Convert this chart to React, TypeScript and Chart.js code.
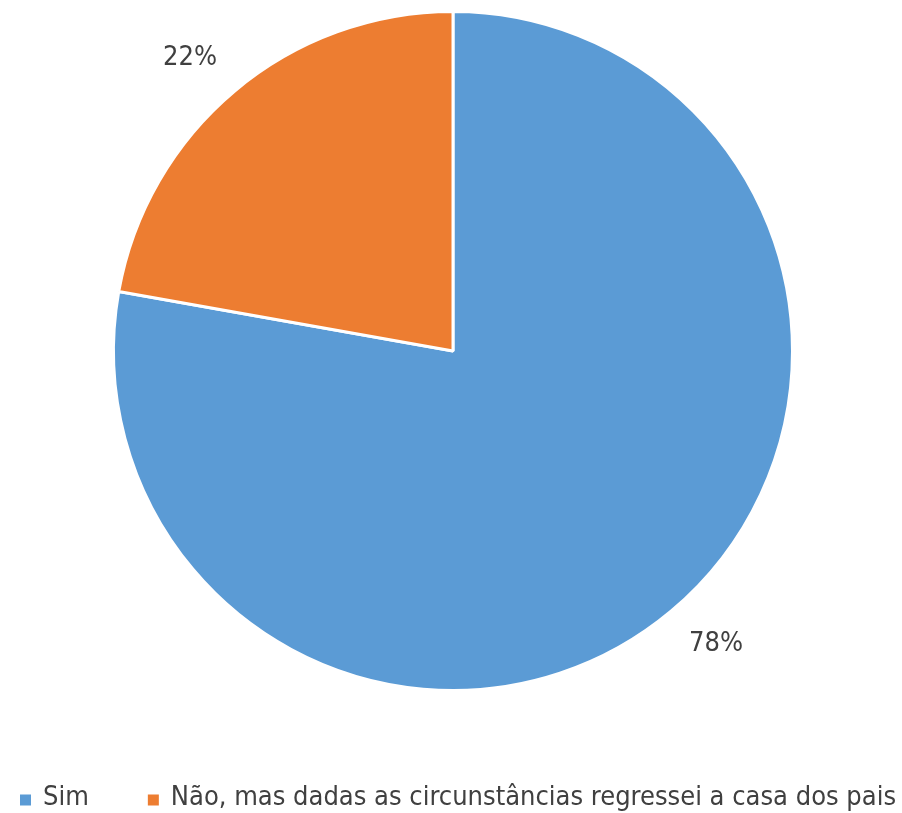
import React, { useEffect, useRef } from "react";
import { Chart, registerables } from "chart.js";

Chart.register(...registerables);

const categories: string[] = ["Sim", "Não, mas dadas as circunstâncias regressei a casa dos pais"];
const values: number[] = [77.8, 22.2];
const colors: string[] = ["#5B9BD5", "#ED7D31"];

const FONT = "'Liberation Sans Narrow', 'DejaVu Sans Condensed', Roboto, sans-serif";
const TEXT_COLOR = "#404040";

const outsideLabels = {
  id: "outsideLabels",
  afterDatasetsDraw(chart: any) {
    const ctx = chart.ctx;
    const meta = chart.getDatasetMeta(0);
    const data = chart.data.datasets[0].data as number[];
    const total = data.reduce((a, b) => a + b, 0);
    ctx.save();
    ctx.font = `27px ${FONT}`;
    ctx.fillStyle = TEXT_COLOR;
    ctx.textAlign = "center";
    ctx.textBaseline = "middle";
    meta.data.forEach((arc: any, i: number) => {
      const { x, y, startAngle, endAngle, outerRadius } = arc.getProps(
        ["x", "y", "startAngle", "endAngle", "outerRadius"],
        true
      );
      const mid = (startAngle + endAngle) / 2;
      const r = outerRadius + 28;
      const ax = x + Math.cos(mid) * r;
      const ay = y + Math.sin(mid) * r;
      const text = Math.round((data[i] / total) * 100) + "%";
      const w = ctx.measureText(text).width;
      const h = 22;
      const cx = ax + Math.sign(Math.cos(mid)) * w / 2;
      const cy = ay + Math.sign(Math.sin(mid)) * h / 2;
      ctx.fillText(text, cx, cy);
    });
    ctx.restore();
  },
};

const customLegend = {
  id: "customLegend",
  afterDraw(chart: any) {
    const ctx = chart.ctx;
    ctx.save();
    ctx.font = `27px ${FONT}`;
    ctx.textAlign = "left";
    ctx.textBaseline = "middle";
    let x = 20;
    const yMid = 798;
    const box = 11;
    chart.data.labels.forEach((label: string, i: number) => {
      ctx.fillStyle = colors[i];
      ctx.fillRect(x, yMid - box / 2 + 2, box, box);
      ctx.fillStyle = TEXT_COLOR;
      ctx.fillText(label, x + 23, yMid);
      x += 23 + ctx.measureText(label).width + 59;
    });
    ctx.restore();
  },
};

export default function App() {
  const canvasRef = useRef<HTMLCanvasElement | null>(null);

  useEffect(() => {
    if (!canvasRef.current) return;
    const chart = new Chart(canvasRef.current, {
      type: "pie",
      data: {
        labels: categories,
        datasets: [
          {
            data: values,
            backgroundColor: colors,
            borderColor: "#FFFFFF",
            borderWidth: 3,
          },
        ],
      },
      options: {
        animation: false,
        responsive: true,
        maintainAspectRatio: false,
        layout: { padding: { top: 10, bottom: 121, left: 4, right: 0 } },
        plugins: {
          legend: { display: false },
          tooltip: { enabled: false },
        },
      },
      plugins: [outsideLabels, customLegend],
    });
    return () => chart.destroy();
  }, []);

  return (
    <div style={{ position: "absolute", left: 0, top: 0, width: 902, height: 813 }}>
      <canvas ref={canvasRef} />
    </div>
  );
}
